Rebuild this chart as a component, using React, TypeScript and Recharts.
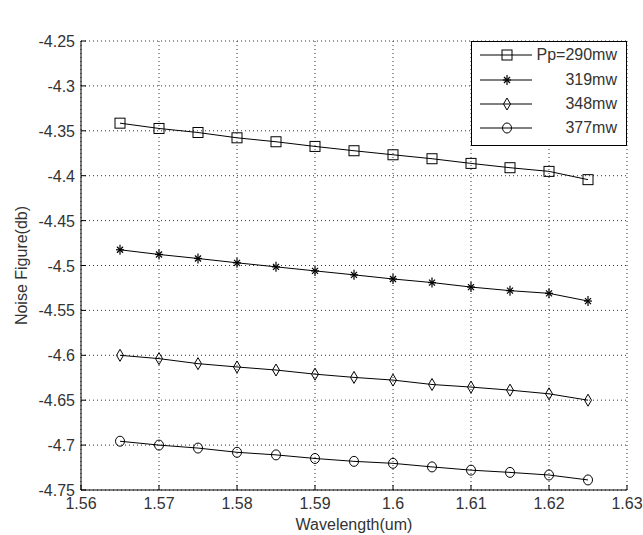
import React from 'react';
import { LineChart, Line, XAxis, YAxis, CartesianGrid, Legend } from 'recharts';

// wavelength samples (um)
const wavelengths = [1.565, 1.57, 1.575, 1.58, 1.585, 1.59, 1.595, 1.6, 1.605, 1.61, 1.615, 1.62, 1.625];

// noise figure (db) per pump power
const nf290 = [-4.3415, -4.3474, -4.3519, -4.3578, -4.3622, -4.3674, -4.3722, -4.3767, -4.3811, -4.3863, -4.3911, -4.3952, -4.4044];
const nf319 = [-4.4825, -4.4877, -4.4922, -4.497, -4.5015, -4.506, -4.5104, -4.515, -4.519, -4.524, -4.528, -4.531, -4.5396];
const nf348 = [-4.6, -4.6037, -4.6093, -4.613, -4.6164, -4.621, -4.6246, -4.6276, -4.6325, -4.6354, -4.6388, -4.6429, -4.65];
const nf377 = [-4.6957, -4.7, -4.7033, -4.708, -4.7109, -4.7149, -4.7181, -4.7203, -4.7243, -4.7279, -4.7304, -4.7333, -4.7388];

const seriesNames = ['Pp=290mw', '319mw', '348mw', '377mw'];
const xTicks = [1.56, 1.57, 1.58, 1.59, 1.6, 1.61, 1.62, 1.63];
const yTicks = [-4.75, -4.7, -4.65, -4.6, -4.55, -4.5, -4.45, -4.4, -4.35, -4.3, -4.25];

const data = wavelengths.map((x, i) => ({
    x,
    s290: nf290[i],
    s319: nf319[i],
    s348: nf348[i],
    s377: nf377[i],
}));

const FONT = '"Liberation Sans", Arial, sans-serif';
const TEXT = '#333';
const FS = 16;

// markers
const SquareMark = ({ cx, cy }: any) => (
    <rect x={cx - 5} y={cy - 5} width={10} height={10} fill="none" stroke="#000" strokeWidth={1} />
);
const StarMark = ({ cx, cy }: any) => (
    <g stroke="#000" strokeWidth={1.2}>
        <line x1={cx - 4} y1={cy} x2={cx + 4} y2={cy} />
        <line x1={cx} y1={cy - 5} x2={cx} y2={cy + 5} />
        <line x1={cx - 3} y1={cy - 3} x2={cx + 3} y2={cy + 3} />
        <line x1={cx - 3} y1={cy + 3} x2={cx + 3} y2={cy - 3} />
    </g>
);
const DiamondMark = ({ cx, cy }: any) => (
    <polygon points={`${cx},${cy - 6} ${cx + 3.5},${cy} ${cx},${cy + 6} ${cx - 3.5},${cy}`} fill="none" stroke="#000" strokeWidth={1} />
);
const CircleMark = ({ cx, cy }: any) => (
    <ellipse cx={cx} cy={cy} rx={4.5} ry={5} fill="none" stroke="#000" strokeWidth={1} />
);

const markers = [SquareMark, StarMark, DiamondMark, CircleMark];

// ticks pointing into the box, matlab style
const BottomTick = ({ x, y, payload }: any) => (
    <g>
        <line x1={x} y1={y} x2={x} y2={y - 5} stroke="#000" />
        <text x={x} y={y + 19} textAnchor="middle" fontSize={FS} fontFamily={FONT} fill={TEXT}>{payload.value}</text>
    </g>
);
const TopTick = ({ x, y }: any) => <line x1={x} y1={y} x2={x} y2={y + 5} stroke="#000" />;
const LeftTick = ({ x, y, payload }: any) => (
    <g>
        <line x1={x} y1={y} x2={x + 5} y2={y} stroke="#000" />
        <text x={x - 6} y={y + 6} textAnchor="end" fontSize={FS} fontFamily={FONT} fill={TEXT}>{payload.value}</text>
    </g>
);
const RightTick = ({ x, y }: any) => <line x1={x} y1={y} x2={x - 5} y2={y} stroke="#000" />;

const LegendBox = () => (
    <div style={{ width: 156, height: 105, border: '1px solid #000', background: '#fff', boxSizing: 'border-box', paddingTop: 1 }}>
        {seriesNames.map((name, i) => {
            const Mark = markers[i];
            return (
                <div key={name} style={{ display: 'flex', alignItems: 'center', height: 24.4 }}>
                    <svg width={62} height={24} style={{ flex: 'none' }}>
                        <line x1={8} y1={12} x2={60} y2={12} stroke="#000" />
                        <Mark cx={35} cy={12} />
                    </svg>
                    <span style={{ flex: 1, textAlign: 'right', paddingRight: 9, fontFamily: FONT, fontSize: FS, color: TEXT, whiteSpace: 'nowrap' }}>{name}</span>
                </div>
            );
        })}
    </div>
);

export default function App() {
    return (
        <div style={{ position: 'absolute', left: 0, top: 0, width: 643, height: 535, background: '#fff' }}>
            <LineChart width={643} height={535} data={data} margin={{ top: 41, right: 16, left: 0, bottom: 0 }}>
                <CartesianGrid stroke="#333" strokeDasharray="1 3" />
                <XAxis
                    dataKey="x"
                    type="number"
                    domain={[1.56, 1.63]}
                    ticks={xTicks}
                    interval={0}
                    height={45}
                    tickSize={0}
                    tickMargin={0}
                    tickLine={false}
                    tick={BottomTick}
                    axisLine={{ stroke: '#000' }}
                    label={{
                        content: ({ viewBox }: any) => (
                            <text x={viewBox.x + viewBox.width / 2} y={530} textAnchor="middle" fontSize={FS} fontFamily={FONT} fill={TEXT}>Wavelength(um)</text>
                        ),
                    }}
                />
                <XAxis
                    xAxisId="top"
                    orientation="top"
                    dataKey="x"
                    type="number"
                    domain={[1.56, 1.63]}
                    ticks={xTicks}
                    interval={0}
                    height={0}
                    tickSize={0}
                    tickMargin={0}
                    tickLine={false}
                    tick={TopTick}
                    axisLine={{ stroke: '#000' }}
                    label={{
                        content: ({ viewBox }: any) => (
                            <text x={viewBox.x + viewBox.width / 2} y={25} textAnchor="middle" fontSize={FS} fontFamily={FONT} fill={TEXT}>RFA NF in L-Band</text>
                        ),
                    }}
                />
                <YAxis
                    type="number"
                    domain={[-4.75, -4.25]}
                    ticks={yTicks}
                    interval={0}
                    width={81}
                    tickSize={0}
                    tickMargin={0}
                    tickLine={false}
                    tick={LeftTick}
                    axisLine={{ stroke: '#000' }}
                    label={{
                        content: ({ viewBox }: any) => {
                            const cx = 21;
                            const cy = viewBox.y + viewBox.height / 2;
                            return (
                                <text x={cx} y={cy} transform={`rotate(-90, ${cx}, ${cy})`} textAnchor="middle" dominantBaseline="central" fontSize={FS} fontFamily={FONT} fill={TEXT}>Noise Figure(db)</text>
                            );
                        },
                    }}
                />
                <YAxis
                    yAxisId="right"
                    orientation="right"
                    type="number"
                    domain={[-4.75, -4.25]}
                    ticks={yTicks}
                    interval={0}
                    width={0}
                    tickSize={0}
                    tickMargin={0}
                    tickLine={false}
                    tick={RightTick}
                    axisLine={{ stroke: '#000' }}
                />
                <Legend
                    layout="vertical"
                    align="center"
                    verticalAlign="middle"
                    width={156}
                    wrapperStyle={{ left: 471, top: 41, width: 156, height: 105 }}
                    content={() => <LegendBox />}
                />
                <Line dataKey="s290" name={seriesNames[0]} stroke="#000" strokeWidth={1} dot={<SquareMark />} isAnimationActive={false} />
                <Line dataKey="s319" name={seriesNames[1]} stroke="#000" strokeWidth={1} dot={<StarMark />} isAnimationActive={false} />
                <Line dataKey="s348" name={seriesNames[2]} stroke="#000" strokeWidth={1} dot={<DiamondMark />} isAnimationActive={false} />
                <Line dataKey="s377" name={seriesNames[3]} stroke="#000" strokeWidth={1} dot={<CircleMark />} isAnimationActive={false} />
            </LineChart>
        </div>
    );
}
